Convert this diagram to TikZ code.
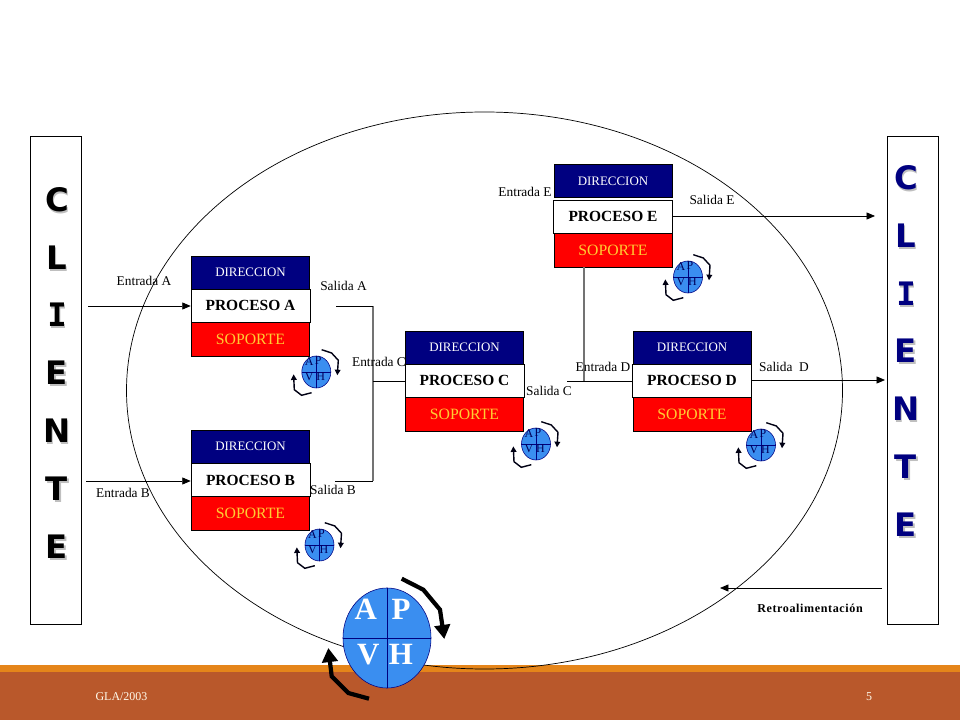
\documentclass[tikz,border=0pt]{standalone}
\usepackage{fontspec}
\setmainfont{Liberation Serif}
\newfontfamily\clifont{DejaVu Sans}
\newfontfamily\climono{DejaVu Sans Mono}
\newfontfamily\retrofont[LetterSpace=5]{Liberation Serif}
\usepackage{xcolor}
\usepackage{tikz}
\usetikzlibrary{arrows.meta,shapes.geometric}
\definecolor{navy}{RGB}{0,0,128}
\definecolor{rojo}{RGB}{255,0,0}
\definecolor{oro}{RGB}{255,204,51}
\definecolor{azul}{RGB}{58,142,240}
\definecolor{banda}{RGB}{185,88,43}
\definecolor{franja}{RGB}{229,133,26}
\tikzset{
  dirbox/.style={draw=black,fill=navy,text=white,minimum width=2.95cm,minimum height=0.825cm,inner sep=0pt,font=\fontsize{9.2}{11}\selectfont},
  procbox/.style={draw=black,fill=white,minimum width=2.975cm,minimum height=0.825cm,inner sep=0pt,font=\fontsize{11}{13}\selectfont\bfseries},
  sopbox/.style={draw=black,fill=rojo,text=oro,minimum width=2.95cm,minimum height=0.85cm,inner sep=0pt,font=\fontsize{11.2}{13}\selectfont},
  clibox/.style={draw=black,fill=white,minimum width=1.285cm,minimum height=12.2cm,inner sep=0pt},
  lbl/.style={inner sep=0pt,font=\fontsize{9.5}{11}\selectfont},
  flow/.style={draw=black,line width=0.6pt,-{Triangle[length=6pt,width=5pt]}},
  joint/.style={draw=black,line width=0.6pt},
  riser/.style={draw=black!55,line width=0.8pt},
  pdca/.style={ellipse,draw=navy,fill=azul,minimum width=0.725cm,minimum height=0.8cm,inner sep=0pt},
  pdcabig/.style={ellipse,draw=navy,fill=azul,minimum width=2.2cm,minimum height=2.5cm,inner sep=0pt},
  letra/.style={font=\fontsize{8.5}{9}\selectfont,text=navy!70!black,inner sep=0pt},
  spin/.style={draw=black!85!navy,line width=1pt,-{Triangle[length=4pt,width=4pt]}},
  spinbig/.style={draw=black,line width=3pt,-{Triangle[length=10pt,width=11pt]}},
  cliL/.style={inner sep=0pt,font=\clifont\bfseries\fontsize{23}{26}\selectfont}
}
\begin{document}
\begin{tikzpicture}[x=0.025cm,y=-0.025cm]
  \useasboundingbox (0,0) rectangle (960,720);
  \fill[franja] (0,665) rectangle (960,672);
  \fill[banda] (0,672) rectangle (960,720);
  \node[lbl,font=\fontsize{8.5}{10}\selectfont,text=white!90!oro] (pie) at (121.5,697) {GLA/2003};
  \node[lbl,font=\fontsize{8.5}{10}\selectfont,text=white!90!oro] (pag) at (869,697) {5};
  % el sistema
  \draw[black,line width=0.5pt] (484.5,390.5) ellipse (358 and 278.5);
  % clientes
  \node[clibox] (cliIzq) at (56,380) {};
  \node[clibox] (cliDer) at (912.5,380) {};
  \foreach \i/\l/\y in {1/C/200,2/L/258,3/{\climono I}/315,4/E/373,5/N/431,6/T/489,7/E/547} {
    \node[cliL,text=black!25] (sombIzq\i) at (58.2,\y+1.5) {\l};
    \node[cliL,text=black] (letIzq\i) at (57,\y) {\l}; }
  \foreach \i/\l/\y in {1/C/178,2/L/236,3/{\climono I}/294,4/E/351,5/N/409,6/T/467,7/E/525} {
    \node[cliL,text=black!25] (sombDer\i) at (907.2,\y+1.5) {\l};
    \node[cliL,text=navy] (letDer\i) at (906,\y) {\l}; }
  % procesos
  \foreach \n/\x/\y/\g in {A/250.5/305.5/33,B/250.5/480/33.5,C/464.5/380.5/33,D/692/380.5/33,E/613/216.5/35.5} {
    \node[dirbox] (dir\n) at (\x,\y-\g) {DIRECCION};
    \node[sopbox] (sop\n) at (\x,\y+33.5) {SOPORTE};
    \node[procbox] (proc\n) at (\x,\y) {PROCESO \n}; }
  % conectores
  \coordinate (iniA) at (88,306);
  \coordinate (iniB) at (86,481);
  \coordinate (salA) at (336,306);
  \coordinate (salB) at (335,481);
  \coordinate (codoA) at (373,306);
  \coordinate (codoB) at (373,481);
  \coordinate (nudoC) at (373,381);
  \coordinate (salC) at (567,381);
  \coordinate (nudoD) at (584,381);
  \coordinate (finD) at (885,380);
  \coordinate (finE) at (875,216);
  \coordinate (iniR) at (882,588);
  \coordinate (finR) at (720,588);
  \draw[riser] (codoA) -- (codoB);
  \draw[riser] (sopE.south -| nudoD) -- (nudoD);
  \draw[flow] (iniA) -- (procA.west |- iniA);
  \draw[flow] (iniB) -- (procB.west |- iniB);
  \draw[joint] (salA) -- (codoA);
  \draw[joint] (salB) -- (codoB);
  \draw[joint] (nudoC) -- (procC.west |- nudoC);
  \draw[joint] (salC) -- (procD.west |- salC);
  \draw[flow] (procD.east |- finD) -- (finD);
  \draw[flow] (procE.east |- finE) -- (finE);
  \draw[flow] (iniR) -- (finR);
  % rotulos
  \foreach \n/\t/\x/\y in {entA/Entrada A/144/281,entB/Entrada B/123/493,entC/Entrada C/379/362,entD/Entrada D/603/367,entE/Entrada E/525/192,
      salidaA/Salida A/343.5/286,salidaB/Salida B/333/490,salidaC/Salida C/549/391,salidaD/Salida\ \ D/784/367,salidaE/Salida E/712/200}
    \node[lbl] (\n) at (\x,\y) {\t};
  \node[lbl,font=\retrofont\fontsize{8.6}{10}\selectfont\bfseries] (retro) at (810,608) {Retroalimentación};
  % ciclos pequenos
  \foreach \n/\x/\y in {A/316.3/372,B/319.5/545,C/536/444,D/761/445,E/688/277} {
    \node[pdca] (pdca\n) at (\x,\y) {};
    \draw[navy,line width=0.5pt] (pdca\n.north) -- (pdca\n.south) (pdca\n.west) -- (pdca\n.east);
    \begin{scope}[shift={(\x,\y)}]
      \node[letra] (a\n) at (-7,-10.5) {A};
      \node[letra] (p\n) at (2,-11.5) {P};
      \node[letra] (v\n) at (-7,5) {V};
      \node[letra] (h\n) at (4.5,5) {H};
      \draw[spin] (5.3,-22.3) -- (15.3,-19) -- (22,-11.7) -- (21,3.3);
      \draw[spin] (-4.7,20.7) -- (-14.7,23.3) -- (-22,17.7) -- (-22.7,2.3);
    \end{scope} }
  % ciclo grande
  \node[pdcabig] (pdcaG) at (387,638) {};
  \draw[navy,line width=0.7pt] (pdcaG.north) -- (pdcaG.south) (pdcaG.west) -- (pdcaG.east);
  \foreach \n/\t/\x/\y in {aG/A/365.7/609,pG/P/401/609,vG/V/368.3/654.7,hG/H/401/654.7}
    \node[font=\fontsize{22}{24}\selectfont\bfseries,text=white,inner sep=0pt] (\n) at (\x,\y) {\t};
  \draw[spinbig] (401.7,578.7) -- (423.3,589.7) -- (440,609.7) -- (444.3,639);
  \draw[spinbig] (369,698.7) -- (348.3,693) -- (331.7,676.3) -- (328.3,648);
\end{tikzpicture}
\end{document}
